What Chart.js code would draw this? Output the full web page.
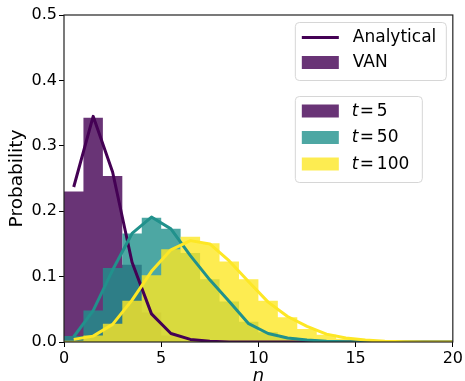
<!DOCTYPE html>
<html>
<head>
<meta charset="utf-8">
<script src="https://cdn.jsdelivr.net/npm/chart.js@4"></script>
<style>
  html, body { margin: 0; padding: 0; background: #fff; }
  #wrap { width: 465px; height: 381px; }
</style>
</head>
<body>
<div id="wrap"><canvas id="chart" width="465" height="381"></canvas></div>
<script>
// histogram bin edges (n) and the n positions of the analytical curves
const binEdges = [0, 1, 2, 3, 4, 5, 6, 7, 8, 9, 10, 11, 12, 13, 14, 15, 16, 17, 18, 19, 20];
const curveX = [0.5, 1.5, 2.5, 3.5, 4.5, 5.5, 6.5, 7.5, 8.5, 9.5, 10.5, 11.5, 12.5, 13.5, 14.5, 15.5, 16.5, 17.5, 18.5, 19.5, 20.5];

// VAN histograms, one value per bin
const vanT5 = [0.230, 0.343, 0.254, 0.118, 0.045, 0.010, 0.002, 0, 0, 0, 0, 0, 0, 0, 0, 0, 0, 0, 0, 0];
const vanT50 = [0.009, 0.048, 0.113, 0.166, 0.190, 0.173, 0.136, 0.096, 0.062, 0.031, 0.015, 0.007, 0.003, 0.001, 0, 0, 0, 0, 0, 0];
const vanT100 = [0.002, 0.010, 0.028, 0.063, 0.102, 0.142, 0.161, 0.151, 0.123, 0.096, 0.063, 0.038, 0.020, 0.011, 0.005, 0.002, 0.001, 0, 0, 0];

// analytical curves (the curve runs on past the right edge and is clipped)
const anaT5 = [0.237, 0.345, 0.260, 0.122, 0.043, 0.013, 0.004, 0.001, 0, 0, 0, 0, 0, 0, 0, 0, 0, 0, 0, 0, 0];
const anaT50 = [0.008, 0.048, 0.110, 0.166, 0.191, 0.173, 0.132, 0.095, 0.062, 0.028, 0.013, 0.006, 0.003, 0.001, 0.0005, 0, 0, 0, 0, 0, 0];
const anaT100 = [0.004, 0.009, 0.027, 0.064, 0.108, 0.141, 0.155, 0.150, 0.124, 0.092, 0.061, 0.039, 0.024, 0.012, 0.006, 0.003, 0.001, 0.0005, 0, 0, 0];

const tValues = ['5', '50', '100'];
const yTicks = [0, 0.1, 0.2, 0.3, 0.4, 0.5];
const xTicks = [0, 5, 10, 15, 20];

const lineColors = ['#440154', '#21918c', '#fde725'];
const fillColors = ['rgba(68,1,84,0.8)', 'rgba(33,145,140,0.8)', 'rgba(253,231,37,0.8)'];
const FONT = '"DejaVu Sans", sans-serif';

function histPoints(vals) {
  // last edge repeats the last bin so the step closes at n = 20
  return binEdges.map((x, i) => ({ x: x, y: vals[Math.min(i, vals.length - 1)] }));
}
function curvePoints(vals) {
  return curveX.map((x, i) => ({ x: x, y: vals[i] }));
}

function histDataset(vals, idx, order) {
  return {
    type: 'line', data: histPoints(vals), stepped: 'before',
    fill: 'origin', backgroundColor: fillColors[idx],
    borderWidth: 0, borderColor: 'rgba(0,0,0,0)', pointRadius: 0, order: order
  };
}
function curveDataset(vals, idx, order) {
  return {
    type: 'line', data: curvePoints(vals), borderColor: lineColors[idx],
    borderWidth: 3, borderJoinStyle: 'round', fill: false, pointRadius: 0,
    tension: 0, order: order
  };
}

function roundBox(ctx, x, y, w, h, r) {
  ctx.beginPath();
  ctx.moveTo(x + r, y);
  ctx.arcTo(x + w, y, x + w, y + h, r);
  ctx.arcTo(x + w, y + h, x, y + h, r);
  ctx.arcTo(x, y + h, x, y, r);
  ctx.arcTo(x, y, x + w, y, r);
  ctx.closePath();
}

const framePlugin = {
  id: 'frameAndLegends',
  afterDraw(chart) {
    const ctx = chart.ctx;
    const a = chart.chartArea;
    ctx.save();
    // axes box
    ctx.strokeStyle = '#222';
    ctx.lineWidth = 1.2;
    ctx.strokeRect(a.left, a.top, a.right - a.left, a.bottom - a.top);

    ctx.font = '17px ' + FONT;
    ctx.textBaseline = 'middle';
    ctx.textAlign = 'left';

    // legend 1: Analytical / VAN
    const bx = a.right - 158;
    roundBox(ctx, bx + 0.5, a.top + 7.5, 151, 58, 4);
    ctx.fillStyle = 'rgba(255,255,255,0.8)';
    ctx.fill();
    ctx.strokeStyle = '#d6d6d6';
    ctx.lineWidth = 1;
    ctx.stroke();

    ctx.strokeStyle = lineColors[0];
    ctx.lineWidth = 3;
    ctx.beginPath();
    ctx.moveTo(bx + 7, a.top + 22.5);
    ctx.lineTo(bx + 44, a.top + 22.5);
    ctx.stroke();
    ctx.fillStyle = '#000';
    ctx.fillText('Analytical', bx + 58, a.top + 23);

    ctx.fillStyle = fillColors[0];
    ctx.fillRect(bx + 7, a.top + 41, 37, 13);
    ctx.fillStyle = '#000';
    ctx.fillText('VAN', bx + 58, a.top + 48);

    // legend 2: t values
    roundBox(ctx, bx + 0.5, a.top + 81.5, 127, 86, 4);
    ctx.fillStyle = 'rgba(255,255,255,0.8)';
    ctx.fill();
    ctx.strokeStyle = '#d6d6d6';
    ctx.lineWidth = 1;
    ctx.stroke();

    tValues.forEach((t, i) => {
      const cy = a.top + 96 + i * 26.5;
      ctx.fillStyle = fillColors[i];
      ctx.fillRect(bx + 7, cy - 6.5, 37, 13);
      ctx.fillStyle = '#000';
      ctx.font = 'italic 17px ' + FONT;
      ctx.fillText('t', bx + 57, cy + 0.5);
      ctx.font = '17px ' + FONT;
      ctx.fillText('=', bx + 65, cy + 0.5);
      ctx.fillText(t, bx + 82, cy + 0.5);
    });
    ctx.restore();
  }
};

new Chart(document.getElementById('chart'), {
  type: 'line',
  data: {
    datasets: [
      histDataset(vanT5, 0, 6),
      histDataset(vanT50, 1, 5),
      histDataset(vanT100, 2, 4),
      curveDataset(anaT5, 0, 3),
      curveDataset(anaT50, 1, 2),
      curveDataset(anaT100, 2, 1)
    ]
  },
  options: {
    responsive: false,
    animation: false,
    devicePixelRatio: 1,
    layout: { padding: { left: 0, right: 12, top: 15, bottom: 0 } },
    plugins: { legend: { display: false }, tooltip: { enabled: false } },
    scales: {
      x: {
        type: 'linear', min: 0, max: 20,
        afterBuildTicks: s => { s.ticks = xTicks.map(v => ({ value: v })); },
        afterFit: s => { s.height = 39; },
        ticks: { color: '#000', font: { family: FONT, size: 16 }, padding: 2, maxRotation: 0 },
        grid: { drawOnChartArea: false, drawTicks: true, tickLength: 5, color: '#000', tickWidth: 1 },
        border: { display: false },
        title: { display: true, text: 'n', color: '#000', font: { family: FONT, size: 18, style: 'italic', lineHeight: 1 }, padding: { top: 0, bottom: -4 } }
      },
      y: {
        type: 'linear', min: 0, max: 0.5,
        afterBuildTicks: s => { s.ticks = yTicks.map(v => ({ value: v })); },
        afterFit: s => { s.width = 64; },
        ticks: { color: '#000', font: { family: FONT, size: 16 }, padding: 2, callback: v => v.toFixed(1) },
        grid: { drawOnChartArea: false, drawTicks: true, tickLength: 5, color: '#000', tickWidth: 1 },
        border: { display: false },
        title: { display: true, text: 'Probability', color: '#000', font: { family: FONT, size: 18.5, lineHeight: 1.2 }, padding: { top: 6, bottom: 0 } }
      }
    }
  },
  plugins: [framePlugin]
});
</script>
</body>
</html>
